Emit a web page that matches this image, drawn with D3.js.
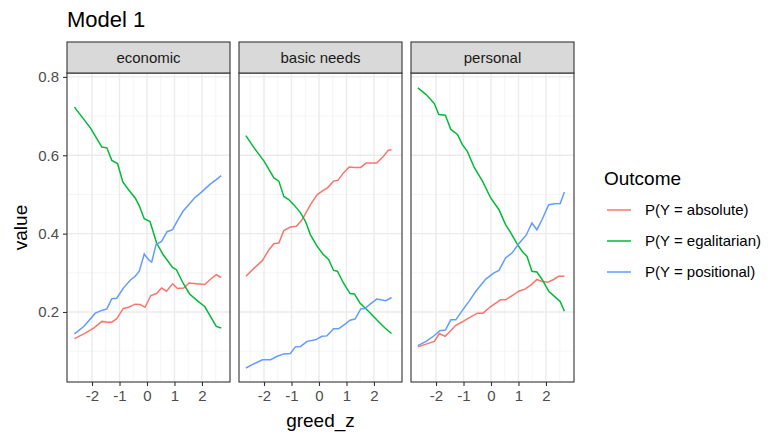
<!DOCTYPE html>
<html>
<head>
<meta charset="utf-8">
<script src="https://cdn.jsdelivr.net/npm/d3@7"></script>
<style>
  body { margin: 0; background: #fff; }
  svg { display: block; font-family: "Liberation Sans", Arial, sans-serif; }
</style>
</head>
<body>
<script>
// panels and series
var facets = ['economic', 'basic needs', 'personal'];
var outcomes = ['P(Y = absolute)', 'P(Y = egalitarian)', 'P(Y = positional)'];
var colors = ['#F8766D', '#00BA38', '#619CFF'];

// [greed_z, value]
var econAbsolute = [[-2.64,0.132],[-2.30,0.144],[-1.94,0.159],[-1.64,0.176],[-1.46,0.174],[-1.28,0.174],[-1.10,0.183],[-0.86,0.209],[-0.67,0.212],[-0.43,0.220],[-0.25,0.219],[-0.07,0.212],[0.14,0.242],[0.35,0.247],[0.53,0.261],[0.71,0.253],[0.93,0.272],[1.11,0.260],[1.34,0.261],[1.53,0.274],[1.80,0.272],[2.10,0.270],[2.30,0.283],[2.52,0.295],[2.70,0.288]];
var econEgalitarian = [[-2.64,0.723],[-2.06,0.670],[-1.64,0.621],[-1.46,0.619],[-1.28,0.587],[-1.07,0.579],[-0.88,0.532],[-0.67,0.512],[-0.43,0.491],[-0.28,0.471],[-0.10,0.438],[0.11,0.431],[0.35,0.376],[0.59,0.346],[0.93,0.314],[1.07,0.308],[1.31,0.274],[1.55,0.246],[1.86,0.227],[2.10,0.214],[2.52,0.163],[2.70,0.159]];
var econPositional = [[-2.64,0.144],[-2.30,0.163],[-1.88,0.197],[-1.64,0.204],[-1.46,0.208],[-1.28,0.234],[-1.10,0.235],[-0.86,0.261],[-0.61,0.281],[-0.43,0.291],[-0.28,0.304],[-0.10,0.348],[0.05,0.334],[0.17,0.327],[0.33,0.372],[0.53,0.380],[0.73,0.405],[0.93,0.410],[1.13,0.436],[1.31,0.457],[1.55,0.476],[1.73,0.491],[1.98,0.506],[2.28,0.525],[2.52,0.538],[2.70,0.548]];

var basicAbsolute = [[-2.66,0.291],[-2.36,0.312],[-2.06,0.331],[-1.82,0.359],[-1.64,0.374],[-1.46,0.376],[-1.28,0.408],[-1.04,0.417],[-0.82,0.419],[-0.61,0.436],[-0.31,0.474],[-0.07,0.499],[0.14,0.510],[0.31,0.517],[0.53,0.534],[0.69,0.536],[0.89,0.555],[1.10,0.570],[1.29,0.569],[1.52,0.569],[1.71,0.580],[2.10,0.580],[2.34,0.597],[2.52,0.613],[2.64,0.614]];
var basicEgalitarian = [[-2.66,0.650],[-2.36,0.619],[-2.00,0.585],[-1.64,0.542],[-1.46,0.534],[-1.28,0.495],[-1.10,0.487],[-0.92,0.474],[-0.67,0.453],[-0.49,0.431],[-0.31,0.397],[-0.07,0.368],[0.14,0.348],[0.35,0.334],[0.53,0.306],[0.67,0.304],[0.89,0.274],[1.13,0.247],[1.29,0.246],[1.49,0.223],[1.80,0.202],[2.10,0.180],[2.40,0.159],[2.64,0.145]];
var basicPositional = [[-2.66,0.057],[-2.36,0.068],[-2.06,0.078],[-1.76,0.078],[-1.52,0.087],[-1.28,0.093],[-1.04,0.094],[-0.86,0.111],[-0.67,0.112],[-0.43,0.125],[-0.13,0.129],[0.11,0.138],[0.29,0.139],[0.53,0.157],[0.71,0.157],[0.89,0.166],[1.13,0.179],[1.31,0.182],[1.52,0.208],[1.67,0.209],[1.86,0.220],[2.10,0.233],[2.25,0.231],[2.43,0.229],[2.64,0.237]];

var persAbsolute = [[-2.66,0.111],[-2.36,0.118],[-2.06,0.125],[-1.88,0.145],[-1.67,0.138],[-1.46,0.153],[-1.28,0.166],[-1.04,0.175],[-0.80,0.185],[-0.49,0.197],[-0.29,0.197],[-0.01,0.214],[0.35,0.231],[0.53,0.231],[0.77,0.242],[1.01,0.253],[1.25,0.259],[1.47,0.270],[1.67,0.283],[1.86,0.278],[2.07,0.276],[2.28,0.283],[2.46,0.291],[2.67,0.291]];
var persEgalitarian = [[-2.66,0.772],[-2.36,0.755],[-2.06,0.732],[-1.90,0.704],[-1.66,0.702],[-1.46,0.666],[-1.22,0.653],[-1.04,0.627],[-0.86,0.610],[-0.61,0.569],[-0.31,0.534],[-0.01,0.491],[0.29,0.461],[0.53,0.423],[0.71,0.403],[0.95,0.374],[1.13,0.355],[1.31,0.342],[1.49,0.304],[1.67,0.302],[1.86,0.283],[2.10,0.253],[2.34,0.238],[2.52,0.226],[2.67,0.202]];
var persPositional = [[-2.66,0.114],[-2.36,0.125],[-2.06,0.140],[-1.86,0.152],[-1.66,0.154],[-1.46,0.180],[-1.28,0.180],[-1.04,0.204],[-0.80,0.227],[-0.55,0.253],[-0.19,0.284],[0.11,0.300],[0.29,0.306],[0.53,0.338],[0.77,0.351],[1.01,0.374],[1.28,0.396],[1.49,0.427],[1.67,0.410],[1.86,0.436],[2.10,0.474],[2.31,0.476],[2.52,0.477],[2.67,0.506]];

var xTicks = [-2, -1, 0, 1, 2];
var yTicks = [0.2, 0.4, 0.6, 0.8];

var panelData = [
  [econAbsolute, econEgalitarian, econPositional],
  [basicAbsolute, basicEgalitarian, basicPositional],
  [persAbsolute, persEgalitarian, persPositional]
];

var width = 770, height = 434;
var panelLeft = 67, panelW = 163, gap = 9;
var stripTop = 42, stripH = 31;
var panelTop = stripTop + stripH, panelBottom = 382;

var x = d3.scaleLinear().domain([-2.91, 3.02]).range([0, panelW]);
var y = d3.scaleLinear().domain([0.0213, 0.810]).range([panelBottom, panelTop]);

var svg = d3.select('body').append('svg')
  .attr('width', width)
  .attr('height', height);

// title
svg.append('text')
  .attr('x', panelLeft).attr('y', 27)
  .attr('font-size', 22)
  .attr('fill', '#000')
  .text('Model 1');

var line = d3.line()
  .x(function (d) { return x(d[0]); })
  .y(function (d) { return y(d[1]); });

var xMinor = [-2.5, -1.5, -0.5, 0.5, 1.5, 2.5];
var yMinor = [0.1, 0.3, 0.5, 0.7];

facets.forEach(function (name, i) {
  var g = svg.append('g')
    .attr('transform', 'translate(' + (panelLeft + i * (panelW + gap)) + ',0)');

  // panel background
  g.append('rect')
    .attr('x', 0).attr('y', panelTop)
    .attr('width', panelW).attr('height', panelBottom - panelTop)
    .attr('fill', '#fff');

  // minor grid
  g.selectAll('.xminor').data(xMinor).enter().append('line')
    .attr('x1', function (d) { return x(d); }).attr('x2', function (d) { return x(d); })
    .attr('y1', panelTop).attr('y2', panelBottom)
    .attr('stroke', '#F2F2F2').attr('stroke-width', 0.8);
  g.selectAll('.yminor').data(yMinor).enter().append('line')
    .attr('x1', 0).attr('x2', panelW)
    .attr('y1', function (d) { return y(d); }).attr('y2', function (d) { return y(d); })
    .attr('stroke', '#F2F2F2').attr('stroke-width', 0.8);

  // major grid
  g.selectAll('.xmajor').data(xTicks).enter().append('line')
    .attr('x1', function (d) { return x(d); }).attr('x2', function (d) { return x(d); })
    .attr('y1', panelTop).attr('y2', panelBottom)
    .attr('stroke', '#EBEBEB').attr('stroke-width', 1.4);
  g.selectAll('.ymajor').data(yTicks).enter().append('line')
    .attr('x1', 0).attr('x2', panelW)
    .attr('y1', function (d) { return y(d); }).attr('y2', function (d) { return y(d); })
    .attr('stroke', '#EBEBEB').attr('stroke-width', 1.4);

  // series lines
  panelData[i].forEach(function (series, k) {
    g.append('path')
      .datum(series)
      .attr('d', line)
      .attr('fill', 'none')
      .attr('stroke', colors[k])
      .attr('stroke-width', 1.5);
  });

  // panel border
  g.append('rect')
    .attr('x', 0).attr('y', panelTop)
    .attr('width', panelW).attr('height', panelBottom - panelTop)
    .attr('fill', 'none').attr('stroke', '#333333').attr('stroke-width', 1.1);

  // strip
  g.append('rect')
    .attr('x', 0).attr('y', stripTop)
    .attr('width', panelW).attr('height', stripH)
    .attr('fill', '#D9D9D9').attr('stroke', '#333333').attr('stroke-width', 1.1);
  g.append('text')
    .attr('x', panelW / 2).attr('y', stripTop + stripH / 2)
    .attr('dy', '0.35em')
    .attr('text-anchor', 'middle')
    .attr('font-size', 15)
    .attr('fill', '#1A1A1A')
    .text(name);

  // x axis
  var xAxis = d3.axisBottom(x).tickValues(xTicks).tickSize(4).tickPadding(4)
    .tickFormat(d3.format('d'));
  var ax = g.append('g')
    .attr('transform', 'translate(0,' + panelBottom + ')')
    .call(xAxis);
  ax.select('.domain').remove();
  ax.selectAll('line').attr('stroke', '#333333').attr('stroke-width', 1.1);
  ax.selectAll('text').attr('font-size', 15).attr('fill', '#4D4D4D')
    .attr('font-family', '"Liberation Sans", Arial, sans-serif')
    .text(function (d) { return d < 0 ? '-' + Math.abs(d) : d; });

  if (i === 0) {
    var yAxis = d3.axisLeft(y).tickValues(yTicks).tickSize(4).tickPadding(4)
      .tickFormat(d3.format('.1f'));
    var ay = g.append('g').call(yAxis);
    ay.select('.domain').remove();
    ay.selectAll('line').attr('stroke', '#333333').attr('stroke-width', 1.1);
    ay.selectAll('text').attr('font-size', 15).attr('fill', '#4D4D4D')
      .attr('font-family', '"Liberation Sans", Arial, sans-serif');
  }
});

// axis titles
var plotsRight = panelLeft + 3 * panelW + 2 * gap;
svg.append('text')
  .attr('x', (panelLeft + plotsRight) / 2).attr('y', 427)
  .attr('text-anchor', 'middle')
  .attr('font-size', 19)
  .text('greed_z');

svg.append('text')
  .attr('transform', 'translate(27,' + ((panelTop + panelBottom) / 2) + ') rotate(-90)')
  .attr('text-anchor', 'middle')
  .attr('font-size', 19)
  .text('value');

// legend
var legend = svg.append('g').attr('transform', 'translate(604,0)');
legend.append('text')
  .attr('x', 0).attr('y', 185)
  .attr('font-size', 19)
  .text('Outcome');

var legendY = d3.scalePoint().domain(outcomes).range([210, 272]);
outcomes.forEach(function (o, k) {
  legend.append('line')
    .attr('x1', 3).attr('x2', 27)
    .attr('y1', legendY(o)).attr('y2', legendY(o))
    .attr('stroke', colors[k]).attr('stroke-width', 1.5);
  legend.append('text')
    .attr('x', 41).attr('y', legendY(o))
    .attr('dy', '0.35em')
    .attr('font-size', 15)
    .text(o);
});
</script>
</body>
</html>
